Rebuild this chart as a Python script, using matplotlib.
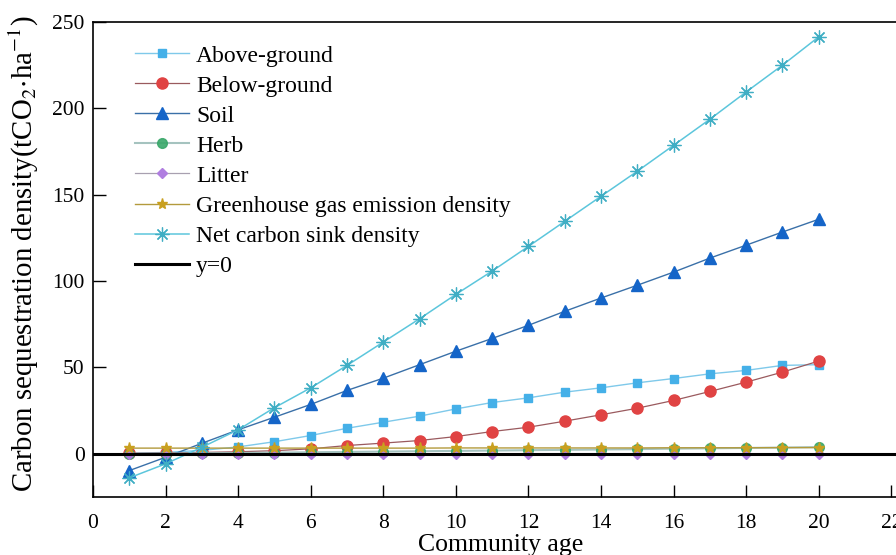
import numpy as np
import matplotlib.pyplot as plt

plt.rcParams['font.family'] = ['Liberation Serif', 'DejaVu Serif']
plt.rcParams['mathtext.fontset'] = 'stix'

# ===== data =====
age = list(range(1, 21))

above_ground = [0.3, 0.8, 2.0, 4.0, 7.0, 10.6, 14.8, 18.3, 21.8, 26.0,
                29.7, 32.4, 35.7, 38.2, 41.1, 43.6, 46.3, 48.3, 51.2, 51.6]
below_ground = [0.3, 0.5, 0.8, 1.2, 1.8, 2.9, 4.8, 6.2, 7.7, 10.0,
                12.9, 15.4, 18.9, 22.6, 26.4, 30.9, 36.1, 41.5, 47.3, 53.7]
soil = [-9.7, -2.0, 6.1, 13.9, 21.2, 28.6, 36.7, 43.8, 51.6, 59.4,
        66.8, 74.4, 82.5, 90.2, 97.6, 105.2, 113.3, 120.8, 128.4, 135.8]
herb = [0.0, 0.1, 0.3, 0.5, 0.7, 0.9, 1.1, 1.3, 1.5, 1.7,
        1.9, 2.1, 2.3, 2.5, 2.7, 3.0, 3.2, 3.4, 3.6, 3.9]
litter = [0.1, 0.1, 0.1, 0.1, 0.1, 0.1, 0.1, 0.1, 0.1, 0.1,
          0.1, 0.1, 0.1, 0.1, 0.1, 0.1, 0.1, 0.1, 0.1, 0.1]
ghg_emission = [3.3, 3.3, 3.3, 3.3, 3.3, 3.3, 3.3, 3.3, 3.3, 3.4,
                3.4, 3.4, 3.4, 3.4, 3.4, 3.5, 3.5, 3.5, 3.6, 3.6]
net_sink = [-13.9, -5.8, 3.8, 13.9, 26.7, 38.2, 51.2, 64.7, 78.2, 92.3,
            105.8, 120.1, 134.6, 149.1, 163.6, 178.6, 193.7, 209.5, 225.0, 241.4]

x_ticks = list(range(0, 26, 2))
y_ticks = [0, 50, 100, 150, 200, 250]

# ===== plot =====
fig = plt.figure(figsize=(8.96, 5.55), dpi=100)
ax = fig.add_axes([0.1038, 0.1045, 0.972, 0.8559])

ax.plot(age, above_ground, '-', color='#7fc9ea', lw=1.0, marker='s', ms=6,
        mfc='#45b0e8', mec='#45b0e8', label='Above-ground')
ax.plot(age, below_ground, '-', color='#9a5a5e', lw=0.9, marker='o', ms=8,
        mfc='#e04343', mec='#e04343', label='Below-ground')
ax.plot(age, soil, '-', color='#3a70a8', lw=1.0, marker='^', ms=8,
        mfc='#1565c8', mec='#1565c8', label='Soil')
ax.plot(age, herb, '-', color='#9bbdb8', lw=1.5, marker='o', ms=7,
        mfc='#3aa86a', mec='#3aa86a', alpha=0.9, label='Herb')
ax.plot(age, litter, '-', color='#a8a0b0', lw=0.9, marker='D', ms=5.5,
        mfc='#b07ee0', mec='#b07ee0', label='Litter')
ax.plot(age, ghg_emission, '-', color='#b39a3c', lw=1.0, marker='*', ms=8,
        mfc='#c9a020', mec='#c9a020', label='Greenhouse gas emission density')
ax.plot(age, net_sink, '-', color='#5cc6dc', lw=1.1, marker=(8, 2, 0), ms=10,
        mfc='#40aec4', mec='#40aec4', mew=0.9, label='Net carbon sink density')
ax.axhline(0, color='black', lw=2.2, zorder=5, label='y=0')

ax.set_xlim(0, 24)
ax.set_ylim(-25, 250)
ax.set_xticks(x_ticks)
ax.set_yticks(y_ticks)
ax.tick_params(direction='in', length=9, width=1.0, labelsize=15.5,
               pad=6, top=False, right=False)
ax.tick_params(axis='x', pad=12)
for s in ax.spines.values():
    s.set_linewidth(1.2)

ax.set_xlabel('Community age', fontsize=18.5)
ax.xaxis.set_label_coords(0.468, -0.077)
ax.set_ylabel(r'Carbon sequestration density(tCO$_2$$\cdot$ha$^{-1}$)', fontsize=20.8,
              labelpad=8)
ax.yaxis.label.set_y(0.513)

ax.legend(loc='upper left', bbox_to_anchor=(0.137, 0.94),
          bbox_transform=fig.transFigure, frameon=False, fontsize=17,
          handlelength=2.3, handletextpad=0.3, labelspacing=0.36,
          borderpad=0)

fig.savefig('out.png', dpi=100)
